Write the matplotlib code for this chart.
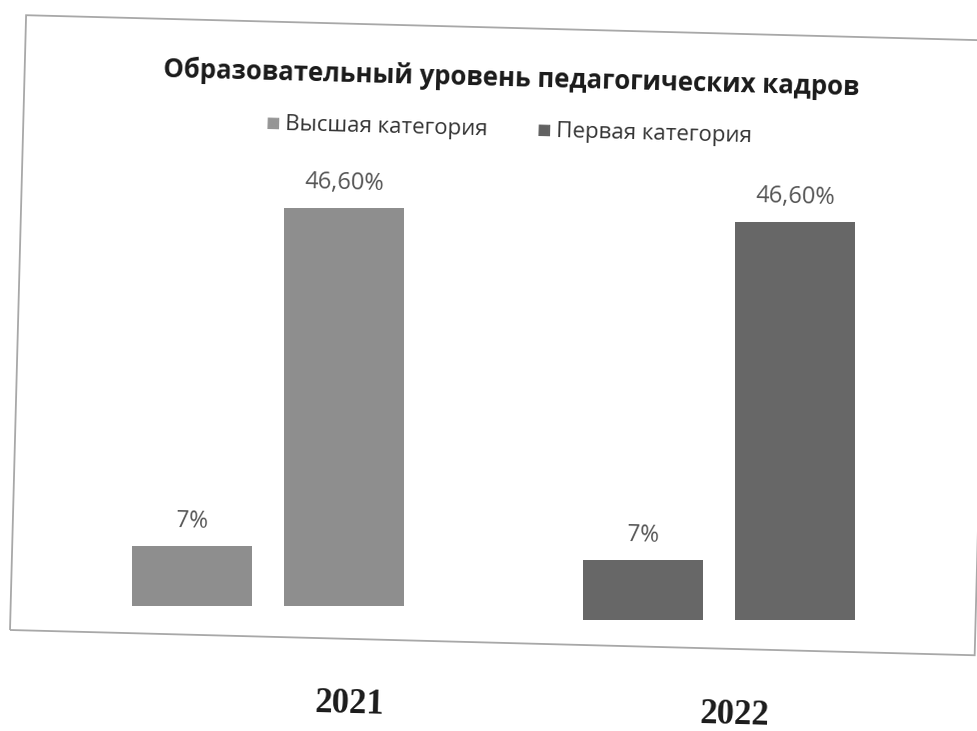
import matplotlib.pyplot as plt
from matplotlib.patches import Rectangle
import numpy as np

# data
years = ['2021', '2022']
series_names = ['Высшая категория', 'Первая категория']
values = [[7, 46.6], [7, 46.6]]          # per year: small bar, big bar
value_labels = [['7%', '46,60%'], ['7%', '46,60%']]
year_colors = ['#8e8e8e', '#676767']
legend_colors = ['#959595', '#606060']

tilt = -1.5   # the scan is slightly rotated

fig = plt.figure(figsize=(9.78, 7.31), dpi=100)
fig.patch.set_facecolor('white')

# outer chart border (in inches so the angle is not skewed)
fig.patches.append(Rectangle((0.10, 1.01), 9.65, 6.15, angle=tilt,
                             transform=fig.dpi_scale_trans, fill=False,
                             edgecolor='#a8a8a8', linewidth=1.3))

# one axes per year, the second one sits a little lower because of the tilt
ax_pos = [[0.044, 0.171, 0.46, 0.643], [0.505, 0.152, 0.46, 0.643]]
w = 0.267
off = 0.169
for i in range(len(years)):
    ax = fig.add_axes(ax_pos[i])
    for j in range(2):
        xp = (j * 2 - 1) * off
        ax.bar(xp, values[i][j], width=w, color=year_colors[i], edgecolor='none')
        ax.annotate(value_labels[i][j], (xp, values[i][j]), xytext=(0, 9),
                    textcoords='offset points', ha='center', va='bottom',
                    fontsize=17 if j == 1 else 16.5, color='#555555',
                    family='Open Sans', rotation=tilt, rotation_mode='anchor')
    ax.set_xlim(-0.5, 0.5)
    ax.set_ylim(0, 55)
    ax.axis('off')

fig.text(0.523, 0.893, 'Образовательный уровень педагогических кадров',
         ha='center', va='center', fontsize=18.5, fontweight='bold',
         family='Open Sans', color='#1a1a1a', rotation=tilt, rotation_mode='anchor')

# legend
fig.text(0.272, 0.833, '■', color=legend_colors[0], fontsize=11, va='center',
         ha='left', family='DejaVu Sans', rotation=tilt, rotation_mode='anchor')
fig.text(0.292, 0.830, series_names[0], fontsize=16, va='center', ha='left',
         family='Open Sans', color='#333333', rotation=tilt, rotation_mode='anchor')
fig.text(0.549, 0.823, '■', color=legend_colors[1], fontsize=11, va='center',
         ha='left', family='DejaVu Sans', rotation=tilt, rotation_mode='anchor')
fig.text(0.569, 0.820, series_names[1], fontsize=16, va='center', ha='left',
         family='Open Sans', color='#333333', rotation=tilt, rotation_mode='anchor')

# year captions under the chart
fig.text(0.357, 0.036, years[0], ha='center', va='center', fontsize=25,
         fontweight='bold', family='Liberation Serif', color='#1a1a1a',
         rotation=tilt, rotation_mode='anchor')
fig.text(0.751, 0.022, years[1], ha='center', va='center', fontsize=25,
         fontweight='bold', family='Liberation Serif', color='#1a1a1a',
         rotation=tilt, rotation_mode='anchor')

fig.savefig('out.png', dpi=100)
